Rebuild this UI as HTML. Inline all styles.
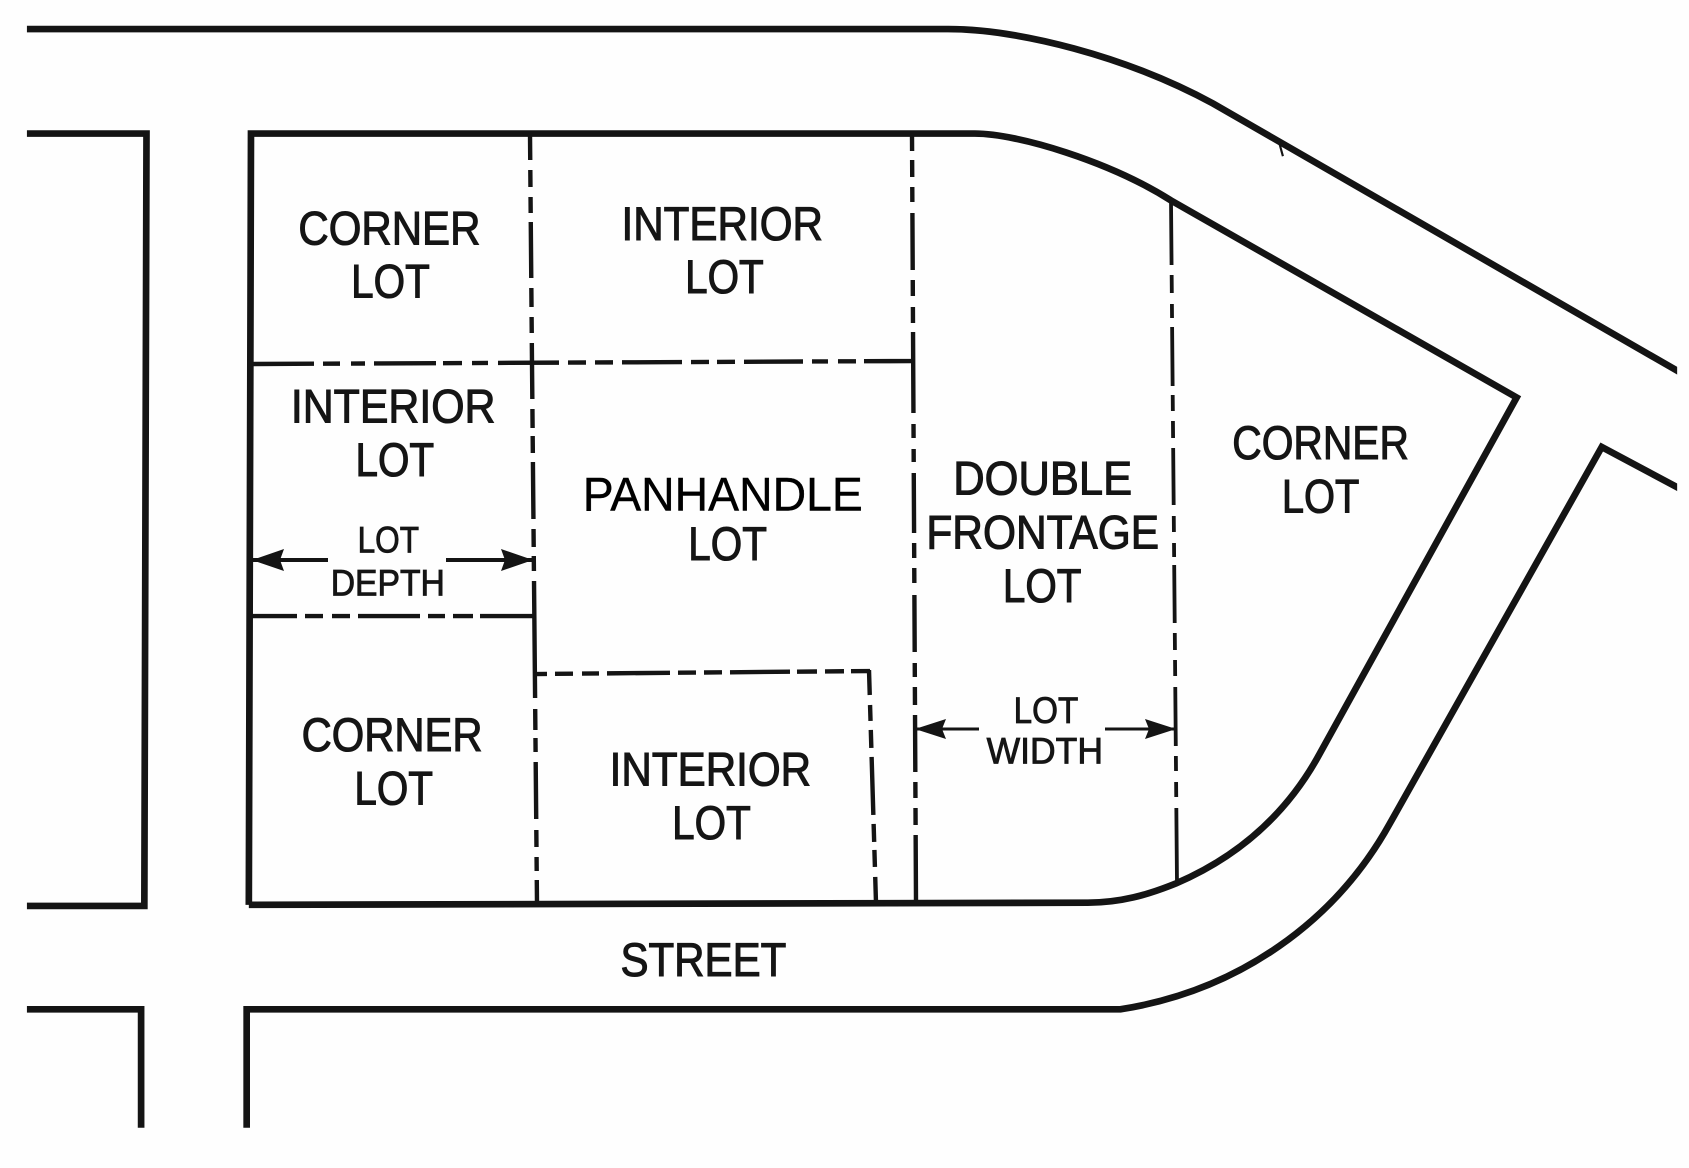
<!DOCTYPE html>
<html><head><meta charset="utf-8"><style>
html,body{margin:0;padding:0;background:#fff}
svg{display:block}
text{font-family:"Liberation Sans",sans-serif;fill:#151515;stroke:#151515;stroke-width:1;font-size:44px}
.s{font-size:34px;stroke-width:.8}
.p{fill:#000;stroke:#000;stroke-width:.35}
.r{fill:none;stroke:#141414;stroke-width:6.2;stroke-linejoin:miter}
.d{fill:none;stroke:#141414;stroke-width:4.4}
</style></head><body>
<svg xmlns="http://www.w3.org/2000/svg" width="1689" height="1168" viewBox="0 0 1568 1084.3">
<defs><clipPath id="c"><rect x="25" y="0" width="1532" height="1047"/></clipPath></defs>
<rect width="1568" height="1085" fill="#fefefe"/>
<g clip-path="url(#c)">
<path class="r" d="M20 27H880C945 27 1045 52 1126 96L1562 347"/>
<path class="r" d="M20 124H136L134 841H20"/>
<path class="r" d="M20 937H131V1052"/>
<path class="r" d="M229 1052V937H1040C1150 920 1240 855 1290 765L1487 415L1562 455"/>
<path class="r" d="M231 840L233 124H905C945 124 1030 150 1087 186L1408 369L1225 700C1195 755 1150 795 1092 820C1065 831 1040 838 1010 838L231 840"/>
<path d="M1188 134L1191 145" stroke="#141414" stroke-width="2" fill="none"/>
</g>
<g transform="scale(.92836)">
<path class="d" d="M530 134L532 363L537 904" stroke-dasharray="26 10 17 10 16 9 56 10 19 10 16 10 56 10 19 8 17 9 57 10 18 9 15 10 117 11 21 8 14 10 57 11 17 10 14 9 24 999"/>
<path class="d" d="M912 134L916 903" stroke-dasharray="17 9 17 10 15 11 57 10 16 11 16 9 81 11 14 11 13 11 60 10 15 10 15 12 57 11 14 10 18 10 57 10 16 10 17 10 68 999"/>
<path class="d" d="M1171 200L1177 884" style="stroke-width:3.8" stroke-dasharray="65 10 18 11 14 9 59 9 16 10 17 10 57 11 16 11 14 8 58 10 17 10 16 11 59 10 15 11 15 11 76 999"/>
<path class="d" d="M252 364L912 361" stroke-dasharray="62 9 17 11 14 9 62 7 19 10 16 10 61 9 18 9 18 9 60 9 18 8 18 9 59 9 16 10 18 8 48 999"/>
<path class="d" d="M252 616H533" stroke-dasharray="45 8 18 9 18 8 62 8 17 8 20 7 53 999"/>
<path class="d" d="M535 674L870 671" stroke-dasharray="12 8 18 9 17 8 63 8 18 8 18 8 60 7 20 8 19 7 19 999"/>
<path class="d" d="M869 670L876 903" stroke-dasharray="25 10 16 9 18 9 58 9 18 8 17 10 26 999"/>
<path d="M252 560H328M446 560H533" stroke="#141414" stroke-width="4" fill="none"/>
<path d="M915 729H979M1105 729H1176" stroke="#141414" stroke-width="3" fill="none"/>
<path d="M252 560L284 549L280 560L284 571Z M533 560L501 549L505 560L501 571Z M915 729L946 719L942 729L946 739Z M1176 729L1145 719L1149 729L1145 739Z" fill="#141414"/>
</g>
<text x="277" y="227" textLength="169" lengthAdjust="spacingAndGlyphs">CORNER</text>
<text x="326" y="276" textLength="73" lengthAdjust="spacingAndGlyphs">LOT</text>
<text x="577" y="223" textLength="187" lengthAdjust="spacingAndGlyphs">INTERIOR</text>
<text x="636" y="272" textLength="73" lengthAdjust="spacingAndGlyphs">LOT</text>
<text x="270" y="392" textLength="190" lengthAdjust="spacingAndGlyphs">INTERIOR</text>
<text x="330" y="442" textLength="73" lengthAdjust="spacingAndGlyphs">LOT</text>
<text class="s" x="332" y="513" textLength="57" lengthAdjust="spacingAndGlyphs">LOT</text>
<text class="s" x="307" y="553" textLength="106" lengthAdjust="spacingAndGlyphs">DEPTH</text>
<text class="p" x="541" y="474" textLength="260" lengthAdjust="spacingAndGlyphs">PANHANDLE</text>
<text x="639" y="520" textLength="73" lengthAdjust="spacingAndGlyphs">LOT</text>
<text x="885" y="459" textLength="166" lengthAdjust="spacingAndGlyphs">DOUBLE</text>
<text x="860" y="509" textLength="216" lengthAdjust="spacingAndGlyphs">FRONTAGE</text>
<text x="931" y="559" textLength="73" lengthAdjust="spacingAndGlyphs">LOT</text>
<text x="1144" y="426" textLength="164" lengthAdjust="spacingAndGlyphs">CORNER</text>
<text x="1190" y="476" textLength="72" lengthAdjust="spacingAndGlyphs">LOT</text>
<text class="s" x="941" y="671" textLength="60" lengthAdjust="spacingAndGlyphs">LOT</text>
<text class="s" x="916" y="709" textLength="108" lengthAdjust="spacingAndGlyphs">WIDTH</text>
<text x="280" y="697" textLength="168" lengthAdjust="spacingAndGlyphs">CORNER</text>
<text x="329" y="747" textLength="73" lengthAdjust="spacingAndGlyphs">LOT</text>
<text x="566" y="729" textLength="187" lengthAdjust="spacingAndGlyphs">INTERIOR</text>
<text x="624" y="779" textLength="73" lengthAdjust="spacingAndGlyphs">LOT</text>
<text x="576" y="906" textLength="154" lengthAdjust="spacingAndGlyphs">STREET</text>
</svg>
</body></html>
